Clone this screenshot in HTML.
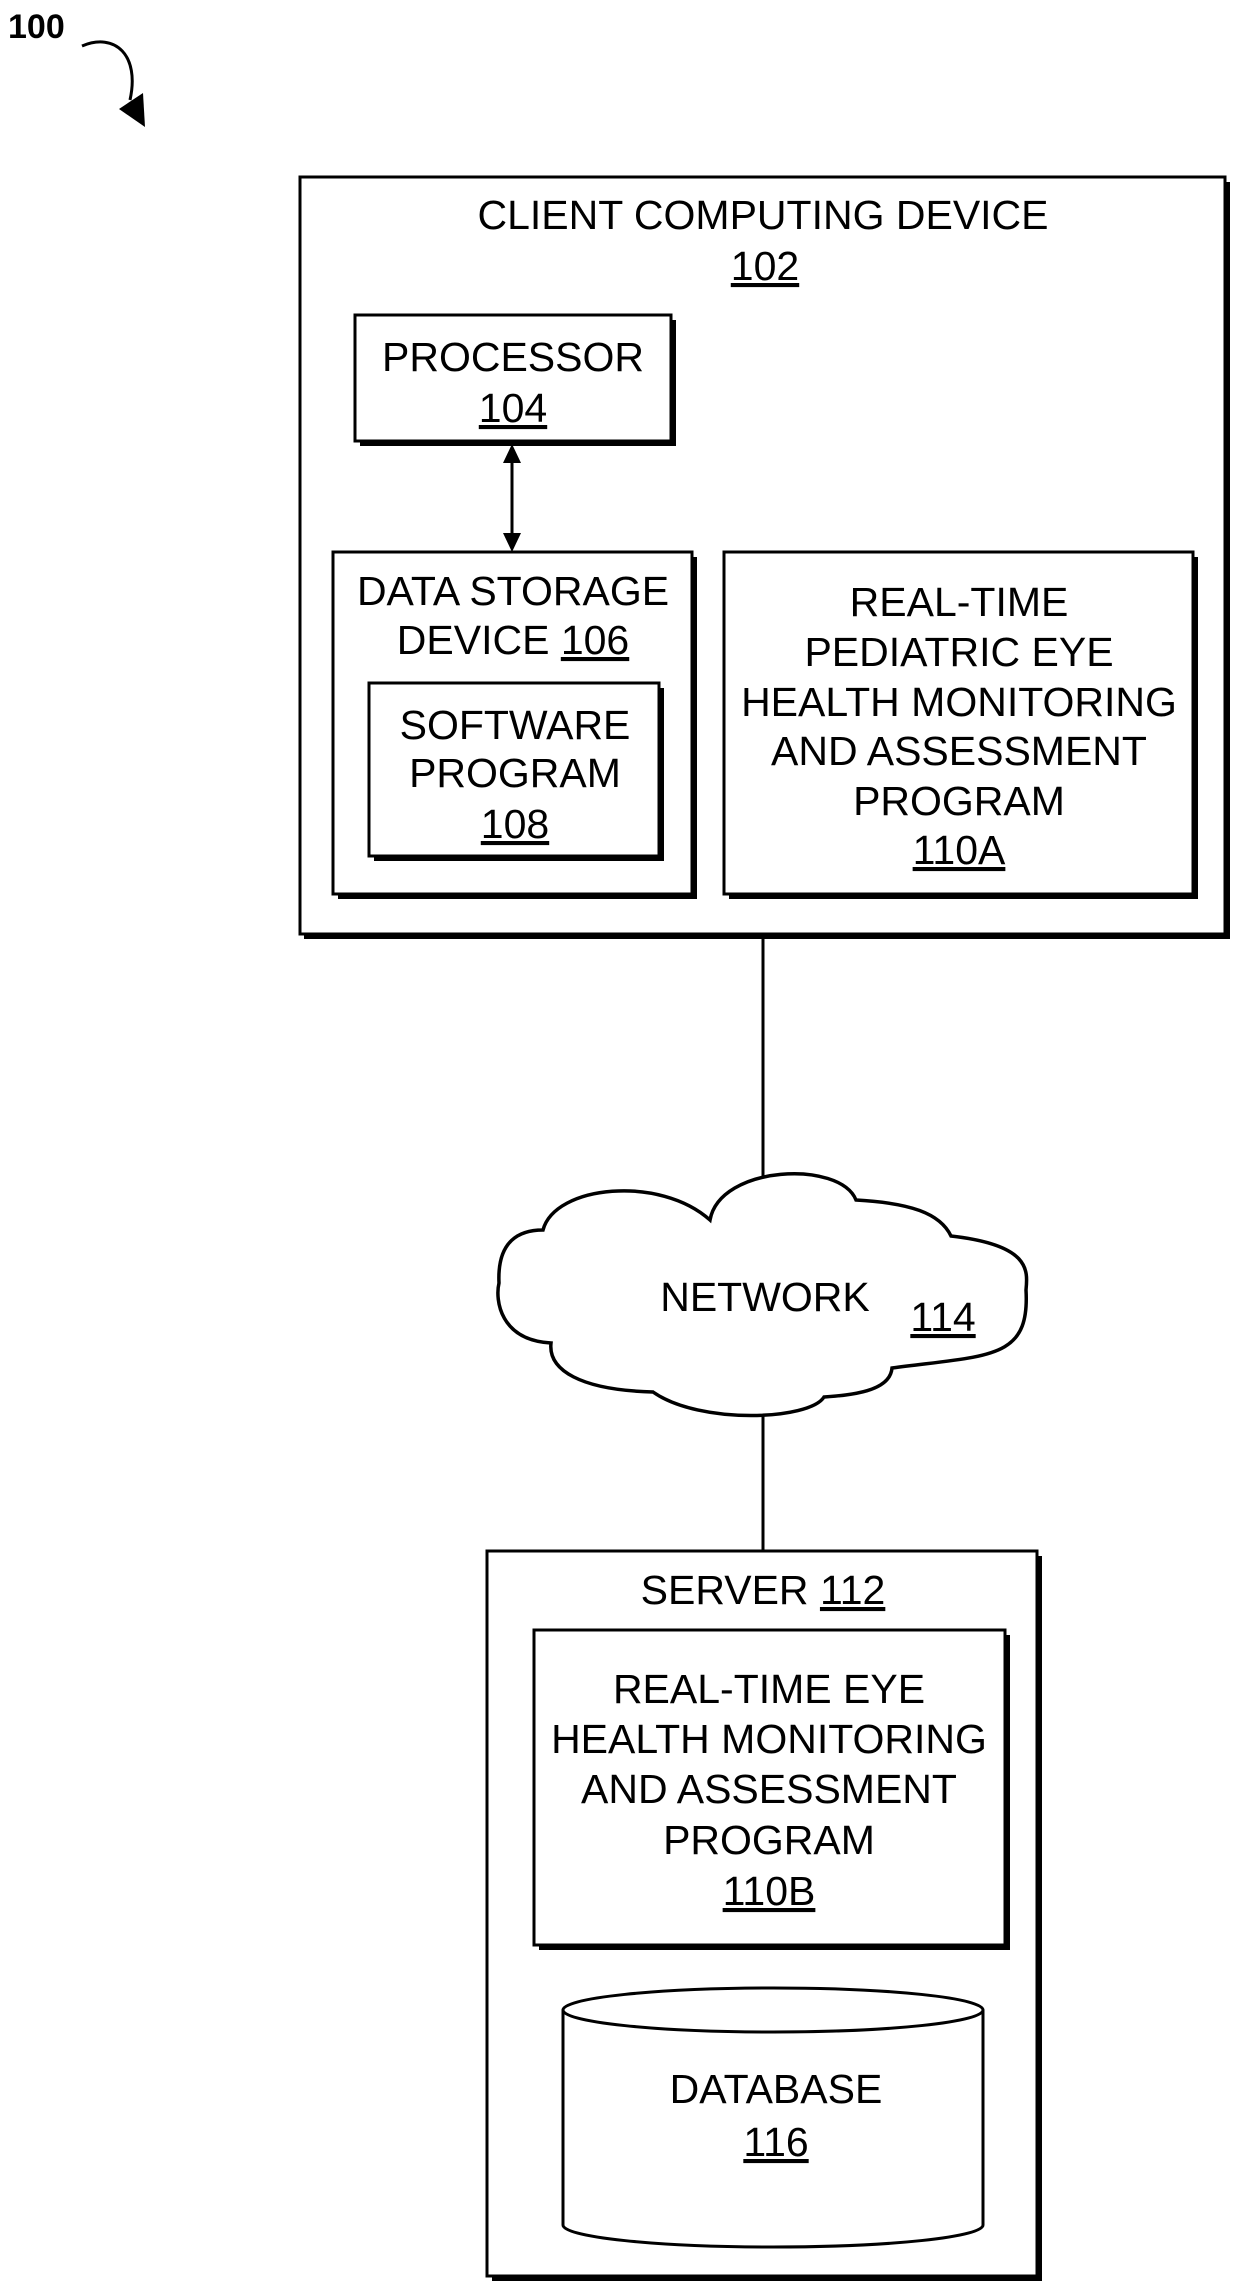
<!DOCTYPE html>
<html><head><meta charset="utf-8"><style>
html,body{margin:0;padding:0;background:#fff;}
svg{display:block;}
text{font-family:"Liberation Sans",Arial,sans-serif;font-size:41px;fill:#000;text-anchor:middle;}
.u{text-decoration:underline;}
</style></head><body>
<svg width="1240" height="2287" viewBox="0 0 1240 2287" xmlns="http://www.w3.org/2000/svg">
<text x="8" y="38" style="font-weight:bold;font-size:34px;text-anchor:start">100</text>
<path d="M82,46 C115,32 140,55 130,100" fill="none" stroke="#000" stroke-width="3"/>
<polygon points="119,109 143,93 145,127" fill="#000"/>

<g fill="none" stroke="#000">
<rect x="304" y="182" width="926" height="757" fill="#000" stroke="none"/>
<rect x="300" y="177" width="925" height="757" fill="#fff" stroke-width="3"/>
<rect x="360" y="320" width="316" height="126" fill="#000" stroke="none"/>
<rect x="355" y="315" width="316" height="126" fill="#fff" stroke-width="3"/>
<rect x="338" y="557" width="359" height="342" fill="#000" stroke="none"/>
<rect x="333" y="552" width="359" height="342" fill="#fff" stroke-width="3"/>
<rect x="374" y="688" width="290" height="173" fill="#000" stroke="none"/>
<rect x="369" y="683" width="290" height="173" fill="#fff" stroke-width="3"/>
<rect x="729" y="557" width="469" height="342" fill="#000" stroke="none"/>
<rect x="724" y="552" width="469" height="342" fill="#fff" stroke-width="3"/>
<rect x="492" y="1556" width="550" height="725" fill="#000" stroke="none"/>
<rect x="487" y="1551" width="550" height="725" fill="#fff" stroke-width="3"/>
<rect x="539" y="1635" width="471" height="315" fill="#000" stroke="none"/>
<rect x="534" y="1630" width="471" height="315" fill="#fff" stroke-width="3"/>
<path d="M563,2010 L563,2225 A210,22 0 0 0 983,2225 L983,2010" fill="#fff" stroke-width="3"/>
<ellipse cx="773" cy="2010" rx="210" ry="22" fill="#fff" stroke-width="3"/>
<line x1="763" y1="934" x2="763" y2="1180" stroke-width="3"/>
<line x1="763" y1="1412" x2="763" y2="1551" stroke-width="3"/>
<line x1="512" y1="460" x2="512" y2="536" stroke-width="3"/>
<path d="M710,1220 C720,1165 840,1160 856,1200 C910,1203 940,1213 951,1236 C1030,1245 1028,1270 1026,1290 C1030,1360 990,1355 892,1368 C890,1392 850,1395 824,1397 C810,1420 700,1425 653,1392 C580,1390 548,1370 551,1343 C500,1340 495,1300 499,1283 C497,1240 520,1230 543,1230 C555,1185 660,1175 710,1220 Z" fill="#fff" stroke-width="3.5"/>
</g>
<polygon points="512,444 503,463 521,463" fill="#000"/>
<polygon points="512,552 503,533 521,533" fill="#000"/>

<text x="763" y="229">CLIENT COMPUTING DEVICE</text>
<text x="765" y="280" class="u">102</text>
<text x="513" y="371">PROCESSOR</text>
<text x="513" y="422" class="u">104</text>
<text x="513" y="605">DATA STORAGE</text>
<text x="513" y="654">DEVICE <tspan class="u">106</tspan></text>
<text x="515" y="739">SOFTWARE</text>
<text x="515" y="787">PROGRAM</text>
<text x="515" y="838" class="u">108</text>
<text x="959" y="616">REAL-TIME</text>
<text x="959" y="666">PEDIATRIC EYE</text>
<text x="959" y="716">HEALTH MONITORING</text>
<text x="959" y="765">AND ASSESSMENT</text>
<text x="959" y="815">PROGRAM</text>
<text x="959" y="864" class="u">110A</text>
<text x="765" y="1311">NETWORK</text>
<text x="943" y="1331" class="u">114</text>
<text x="763" y="1604">SERVER <tspan class="u">112</tspan></text>
<text x="769" y="1703">REAL-TIME EYE</text>
<text x="769" y="1753">HEALTH MONITORING</text>
<text x="769" y="1803">AND ASSESSMENT</text>
<text x="769" y="1854">PROGRAM</text>
<text x="769" y="1905" class="u">110B</text>
<text x="776" y="2103">DATABASE</text>
<text x="776" y="2156" class="u">116</text>
</svg>
</body></html>
